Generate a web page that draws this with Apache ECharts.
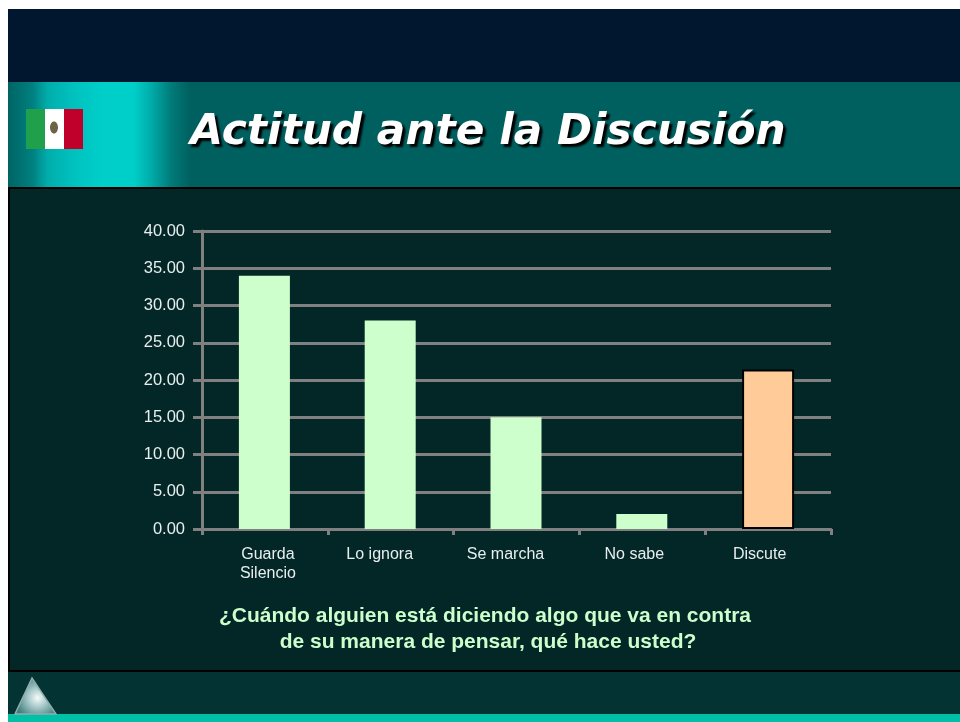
<!DOCTYPE html>
<html>
<head>
<meta charset="utf-8">
<title>Actitud ante la Discusión</title>
<script src="https://cdn.jsdelivr.net/npm/echarts@6/dist/echarts.min.js"></script>
<style>
  html, body { margin: 0; padding: 0; background: #fff; }
  #chart { width: 960px; height: 722px; }
</style>
</head>
<body>
<div id="chart"></div>
<script>
const categories = ['Guarda\nSilencio', 'Lo ignora', 'Se marcha', 'No sabe', 'Discute'];
const greenValues = [34, 28, 15, 2, null];
const peachValues = [null, null, null, null, 21.4];
const titleText = 'Actitud ante la Discusión';
const questionLines = ['¿Cuándo alguien está diciendo algo que va en contra', 'de su manera de pensar, qué hace usted?'];

const myChart = echarts.init(document.getElementById('chart'));

// the labels in the original slide don't sit under the bar centres
const labelPad = [[0, 0, 0, 6], [0, 22, 0, 0], [0, 22, 0, 0], [0, 16, 0, 0], [0, 17, 0, 0]];

const rect = (x, y, width, height, fill) => ({
  type: 'rect', z: -10, silent: true,
  shape: { x, y, width, height },
  style: { fill }
});

const option = {
  animation: false,
  backgroundColor: '#ffffff',
  grid: { left: 202, right: 129, top: 231, bottom: 193 },
  xAxis: {
    type: 'category',
    data: categories.map((c, i) => ({
      value: c,
      textStyle: { padding: labelPad[i] }
    })),
    axisLine: { lineStyle: { color: '#808080', width: 3 } },
    axisTick: { show: true, alignWithLabel: false, length: 6, lineStyle: { color: '#808080', width: 3 } },
    axisLabel: {
      color: '#e8eeee', fontFamily: 'Liberation Sans', fontSize: 16,
      margin: 16, lineHeight: 19, interval: 0
    }
  },
  yAxis: {
    type: 'value', min: 0, max: 40, interval: 5,
    axisLine: { show: true, lineStyle: { color: '#808080', width: 3 } },
    axisTick: { show: true, length: 9, lineStyle: { color: '#808080', width: 3 } },
    axisLabel: {
      color: '#e8eeee', fontFamily: 'Liberation Sans', fontSize: 16.5, margin: 17,
      padding: [3, 0, 0, 0],
      formatter: v => v.toFixed(2)
    },
    splitLine: { show: true, lineStyle: { color: '#808080', width: 3 } }
  },
  series: [
    {
      type: 'bar',
      barWidth: 51,
      barGap: '-100%',
      itemStyle: { color: '#ccffcc' },
      data: greenValues
    },
    {
      type: 'bar',
      barWidth: 52,
      barGap: '-100%',
      itemStyle: { color: '#ffcc99', borderColor: '#000000', borderWidth: 2 },
      data: peachValues
    }
  ],
  graphic: [
    rect(8, 9, 952, 73, '#00172f'),
    {
      type: 'rect', z: -10, silent: true,
      shape: { x: 8, y: 82, width: 952, height: 105 },
      style: {
        fill: new echarts.graphic.LinearGradient(0, 0, 1, 0, [
          { offset: 0, color: '#006363' },
          { offset: 0.026, color: '#008080' },
          { offset: 0.042, color: '#00aeac' },
          { offset: 0.07, color: '#00c2bf' },
          { offset: 0.1, color: '#00cfc9' },
          { offset: 0.132, color: '#00cfc9' },
          { offset: 0.152, color: '#00a8a6' },
          { offset: 0.172, color: '#007a78' },
          { offset: 0.192, color: '#005f5f' },
          { offset: 1, color: '#005f5f' }
        ])
      }
    },
    rect(8, 187, 952, 2, '#000000'),
    rect(8, 189, 952, 482, '#032626'),
    rect(8, 189, 2, 482, '#000000'),
    rect(8, 670, 952, 2, '#000000'),
    rect(8, 672, 952, 42, '#033333'),
    rect(8, 714, 952, 8, '#00c0a8'),
    // flag
    rect(26, 109, 19, 40, '#21a04c'),
    rect(45, 109, 19, 40, '#ffffff'),
    rect(64, 109, 19, 40, '#c0002a'),
    {
      type: 'ellipse', z: -9, silent: true,
      shape: { cx: 54, cy: 127.5, rx: 4, ry: 6 },
      style: { fill: '#6f6248' }
    },
    // logo
    {
      type: 'polygon', z: -9, silent: true,
      shape: { points: [[32, 678], [15, 714], [56, 714]] },
      style: {
        fill: new echarts.graphic.RadialGradient(0.55, 0.55, 0.6, [
          { offset: 0, color: '#f4fbfb' },
          { offset: 0.45, color: '#a4c6c6' },
          { offset: 1, color: '#3f7f80' }
        ]),
        stroke: '#94acac', lineWidth: 1.5
      }
    },
    {
      type: 'text', z: 5, silent: true, x: 488, y: 133,
      style: {
        text: titleText, align: 'center', verticalAlign: 'middle',
        fill: '#ffffff', font: 'italic bold 42.3px "DejaVu Sans"',
        textShadowColor: '#000000', textShadowBlur: 2, textShadowOffsetX: 3, textShadowOffsetY: 3
      }
    },
    {
      type: 'text', z: 5, silent: true, x: 485, y: 616,
      style: {
        text: questionLines[0], align: 'center', verticalAlign: 'middle',
        fill: '#ccffcc', font: 'bold 21px "Liberation Sans"'
      }
    },
    {
      type: 'text', z: 5, silent: true, x: 488, y: 642,
      style: {
        text: questionLines[1], align: 'center', verticalAlign: 'middle',
        fill: '#ccffcc', font: 'bold 21px "Liberation Sans"'
      }
    }
  ]
};

myChart.setOption(option);
</script>
</body>
</html>
